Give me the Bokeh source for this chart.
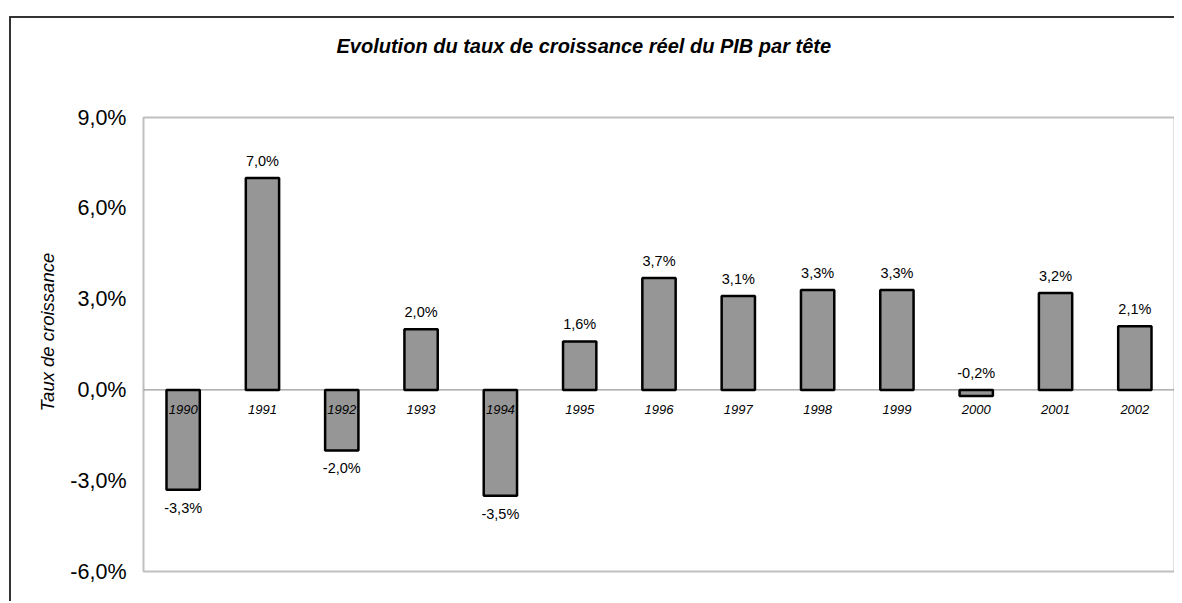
from bokeh.plotting import figure
from bokeh.models import (ColumnDataSource, FactorRange, Range1d, FixedTicker,
                          Span, Title)
from bokeh.core.properties import value
from bokeh.embed import file_html
from bokeh.resources import INLINE

years = ["1990", "1991", "1992", "1993", "1994", "1995", "1996",
         "1997", "1998", "1999", "2000", "2001", "2002"]
growth = [-3.3, 7.0, -2.0, 2.0, -3.5, 1.6, 3.7, 3.1, 3.3, 3.3, -0.2, 3.2, 2.1]
label_side = ["below", "above", "below", "above", "below", "above", "above",
              "above", "above", "above", "above", "above", "above"]
y_ticks = [-6, -3, 0, 3, 6, 9]
y_tick_labels = ["-6,0%", "-3,0%", "0,0%", "3,0%", "6,0%", "9,0%"]
title_text = "Evolution du taux de croissance réel du PIB par tête"
y_label = "Taux de croissance"

FONT = "Liberation Sans"


def fmt(v):
    return f"{v:.1f}".replace(".", ",") + "%"


p = figure(width=1165, height=585, x_range=FactorRange(*years),
           y_range=Range1d(-6, 9), output_backend="svg",
           toolbar_location=None, tools="",
           min_border_left=132, min_border_right=2,
           min_border_top=99, min_border_bottom=32)
p.margin = (16, 0, 0, 9)
p.styles = {"border-left": "2px solid #333333",
            "border-top": "2px solid #333333"}
p.background_fill_color = "white"
p.border_fill_color = "white"
p.outline_line_color = "#c0c0c0"
p.outline_line_width = 2
p.xgrid.visible = False
p.ygrid.visible = False
p.xaxis.visible = False

ya = p.yaxis[0]
ya.ticker = FixedTicker(ticks=y_ticks)
ya.major_label_overrides = {t: l for t, l in zip(y_ticks, y_tick_labels)}
ya.major_tick_line_color = None
ya.major_tick_out = 0
ya.major_tick_in = 0
ya.minor_tick_line_color = None
ya.minor_tick_out = 0
ya.axis_line_color = None
ya.major_label_text_font = FONT
ya.major_label_text_font_size = "21.5px"
ya.major_label_text_color = "black"
ya.major_label_standoff = 17

yt = Title(text=y_label, align="left", offset=160, standoff=19,
           text_font=FONT, text_font_size="18.5px", text_font_style="italic",
           text_color="black")
p.add_layout(yt, "left")

# spacer between the plot area and the title
spacer = Title(text=" ", standoff=46, text_font=FONT, text_font_size="10px")
p.add_layout(spacer, "above")

t = Title(text=title_text, align="left", offset=193, standoff=0,
          vertical_align="top",
          text_font=FONT, text_font_size="20px",
          text_font_style="bold italic", text_color="black")
p.add_layout(t, "above")

zero = Span(location=0, dimension="width", line_color="#808080",
            line_width=1, level="underlay")
p.add_layout(zero)

src = ColumnDataSource(dict(x=years, top=growth))
p.vbar(x="x", top="top", bottom=0, width=0.42, source=src,
       fill_color="#969696", line_color="black", line_width=2.5)

above = [i for i, s in enumerate(label_side) if s == "above"]
below = [i for i, s in enumerate(label_side) if s == "below"]
src_above = ColumnDataSource(dict(x=[years[i] for i in above],
                                  y=[max(growth[i], 0) for i in above],
                                  lab=[fmt(growth[i]) for i in above]))
src_below = ColumnDataSource(dict(x=[years[i] for i in below],
                                  y=[min(growth[i], 0) for i in below],
                                  lab=[fmt(growth[i]) for i in below]))
common = dict(text="lab", text_align="center", text_baseline="middle",
              text_font=value(FONT), text_font_size="14.5px",
              text_color="black")
p.text(x="x", y="y", source=src_above, y_offset=-17, **common)
p.text(x="x", y="y", source=src_below, y_offset=18, **common)

src_years = ColumnDataSource(dict(x=years, y=[0] * len(years)))
p.text(x="x", y="y", text="x", source=src_years, y_offset=20,
       text_align="center", text_baseline="middle",
       text_font=value(FONT), text_font_size="13px",
       text_font_style="italic", text_color="black")

open("out.html", "w").write(file_html(p, INLINE))
